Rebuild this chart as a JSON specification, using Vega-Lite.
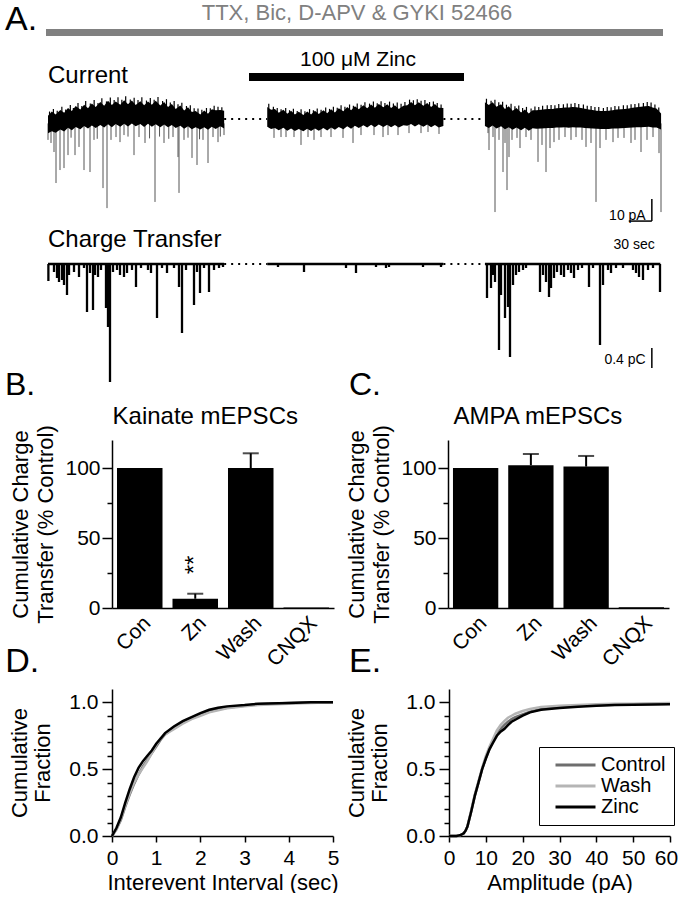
{
  "$schema": "https://vega.github.io/schema/vega-lite/v6.json",
  "background": "white",
  "padding": {"left": 4, "top": 0, "right": 0, "bottom": 0},
  "config": {
    "font": "Liberation Sans",
    "view": {"stroke": null},
    "axis": {"domainColor": "black", "tickColor": "black", "labelColor": "black", "titleColor": "black", "grid": false, "labelFont": "Liberation Sans", "titleFont": "Liberation Sans", "titleFontWeight": "normal", "labelFontSize": 21, "titleFontSize": 22, "domainWidth": 1.5, "tickWidth": 1.5, "labelOverlap": false, "labelFlush": false, "labelBound": false},
    "legend": {"labelFont": "Liberation Sans", "labelColor": "black"},
    "text": {"font": "Liberation Sans", "color": "black"}
  },
  "datasets": {
    "band": [
      {"s":1,"t":0,"hi":1.5,"lo":-6.5},{"s":1,"t":5,"hi":3.4,"lo":-5.6},{"s":1,"t":10,"hi":2.0,"lo":-6.3},{"s":1,"t":16,"hi":4.1,"lo":-4.8},{"s":1,"t":21,"hi":2.8,"lo":-5.7},{"s":1,"t":26,"hi":5.0,"lo":-4.0},{"s":1,"t":31,"hi":3.6,"lo":-5.1},{"s":1,"t":36,"hi":5.9,"lo":-3.6},{"s":1,"t":42,"hi":4.3,"lo":-4.7},{"s":1,"t":47,"hi":6.5,"lo":-3.2},{"s":1,"t":52,"hi":4.9,"lo":-4.3},{"s":1,"t":57,"hi":7.0,"lo":-2.9},{"s":1,"t":62,"hi":5.4,"lo":-4.1},{"s":1,"t":68,"hi":7.7,"lo":-2.7},{"s":1,"t":73,"hi":6.0,"lo":-3.9},{"s":1,"t":78,"hi":8.3,"lo":-2.4},{"s":1,"t":83,"hi":6.4,"lo":-3.7},{"s":1,"t":88,"hi":8.0,"lo":-2.3},{"s":1,"t":94,"hi":6.5,"lo":-3.5},{"s":1,"t":99,"hi":8.5,"lo":-2.2},{"s":1,"t":104,"hi":6.7,"lo":-3.4},{"s":1,"t":109,"hi":8.4,"lo":-2.1},{"s":1,"t":114,"hi":6.4,"lo":-3.3},{"s":1,"t":120,"hi":8.1,"lo":-2.3},{"s":1,"t":125,"hi":6.2,"lo":-3.6},{"s":1,"t":130,"hi":7.9,"lo":-2.2},{"s":1,"t":135,"hi":6.5,"lo":-3.5},{"s":1,"t":140,"hi":8.3,"lo":-2.4},{"s":1,"t":146,"hi":6.1,"lo":-3.7},{"s":1,"t":151,"hi":7.7,"lo":-2.5},{"s":1,"t":156,"hi":5.4,"lo":-3.8},{"s":1,"t":161,"hi":6.8,"lo":-2.7},{"s":1,"t":166,"hi":4.6,"lo":-4.1},{"s":1,"t":172,"hi":6.1,"lo":-3.1},{"s":1,"t":177,"hi":3.9,"lo":-4.4},{"s":1,"t":182,"hi":5.3,"lo":-3.3},{"s":1,"t":187,"hi":3.2,"lo":-4.7},{"s":1,"t":192,"hi":3.6,"lo":-3.7},{"s":1,"t":198,"hi":2.1,"lo":-4.8},{"s":1,"t":203,"hi":3.9,"lo":-3.7},{"s":1,"t":208,"hi":2.4,"lo":-4.9},{"s":1,"t":213,"hi":4.4,"lo":-3.5},{"s":1,"t":218,"hi":4.0,"lo":-4.5},{"s":1,"t":224,"hi":4.1,"lo":-3.3},{"s":1,"t":229,"hi":3.8,"lo":-4.3},
      {"s":2,"t":285,"hi":5.5,"lo":-3.5},{"s":2,"t":290,"hi":4.2,"lo":-4.5},{"s":2,"t":295,"hi":4.5,"lo":-4.1},{"s":2,"t":300,"hi":2.8,"lo":-5.1},{"s":2,"t":306,"hi":4.2,"lo":-4.0},{"s":2,"t":311,"hi":2.4,"lo":-5.3},{"s":2,"t":316,"hi":3.7,"lo":-4.3},{"s":2,"t":321,"hi":2.0,"lo":-5.5},{"s":2,"t":326,"hi":3.3,"lo":-4.5},{"s":2,"t":332,"hi":1.8,"lo":-5.6},{"s":2,"t":337,"hi":3.4,"lo":-4.4},{"s":2,"t":342,"hi":2.1,"lo":-5.4},{"s":2,"t":347,"hi":3.8,"lo":-4.3},{"s":2,"t":352,"hi":2.3,"lo":-5.3},{"s":2,"t":358,"hi":4.0,"lo":-4.1},{"s":2,"t":363,"hi":2.6,"lo":-5.2},{"s":2,"t":368,"hi":4.4,"lo":-3.9},{"s":2,"t":373,"hi":3.0,"lo":-4.9},{"s":2,"t":378,"hi":4.9,"lo":-3.6},{"s":2,"t":384,"hi":3.5,"lo":-4.7},{"s":2,"t":389,"hi":5.4,"lo":-3.3},{"s":2,"t":394,"hi":4.0,"lo":-4.4},{"s":2,"t":399,"hi":5.8,"lo":-3.1},{"s":2,"t":404,"hi":4.4,"lo":-4.1},{"s":2,"t":410,"hi":6.3,"lo":-2.8},{"s":2,"t":415,"hi":4.9,"lo":-3.9},{"s":2,"t":420,"hi":6.6,"lo":-2.6},{"s":2,"t":425,"hi":5.1,"lo":-3.7},{"s":2,"t":430,"hi":6.8,"lo":-2.5},{"s":2,"t":436,"hi":5.3,"lo":-3.6},{"s":2,"t":441,"hi":6.7,"lo":-2.6},{"s":2,"t":446,"hi":5.0,"lo":-3.8},{"s":2,"t":451,"hi":6.3,"lo":-2.7},{"s":2,"t":456,"hi":4.6,"lo":-3.9},{"s":2,"t":462,"hi":6.0,"lo":-2.8},{"s":2,"t":467,"hi":6.3,"lo":-3.1},{"s":2,"t":472,"hi":7.7,"lo":-2.3},{"s":2,"t":477,"hi":6.2,"lo":-3.4},{"s":2,"t":482,"hi":7.6,"lo":-2.4},{"s":2,"t":488,"hi":6.0,"lo":-3.5},{"s":2,"t":493,"hi":7.3,"lo":-2.5},{"s":2,"t":498,"hi":5.5,"lo":-3.7},{"s":2,"t":503,"hi":6.8,"lo":-2.7},{"s":2,"t":508,"hi":5.1,"lo":-3.9},{"s":2,"t":514,"hi":5.0,"lo":-3.2},
      {"s":3,"t":568,"hi":7.6,"lo":-3.2},{"s":3,"t":573,"hi":6.4,"lo":-4.1},{"s":3,"t":578,"hi":7.6,"lo":-3.0},{"s":3,"t":583,"hi":5.6,"lo":-4.3},{"s":3,"t":589,"hi":6.7,"lo":-3.3},{"s":3,"t":594,"hi":4.6,"lo":-4.7},{"s":3,"t":599,"hi":5.8,"lo":-3.7},{"s":3,"t":604,"hi":3.8,"lo":-4.9},{"s":3,"t":609,"hi":5.0,"lo":-3.9},{"s":3,"t":615,"hi":3.0,"lo":-5.1},{"s":3,"t":620,"hi":4.3,"lo":-4.0},{"s":3,"t":625,"hi":2.5,"lo":-5.3},{"s":3,"t":630,"hi":4.0,"lo":-4.2},{"s":3,"t":635,"hi":4.0,"lo":-4.4},{"s":3,"t":641,"hi":4.2,"lo":-4.3},{"s":3,"t":646,"hi":4.4,"lo":-4.2},{"s":3,"t":651,"hi":4.6,"lo":-4.1},{"s":3,"t":656,"hi":4.6,"lo":-4.1},{"s":3,"t":661,"hi":4.9,"lo":-3.9},{"s":3,"t":667,"hi":5.0,"lo":-3.9},{"s":3,"t":672,"hi":5.2,"lo":-3.8},{"s":3,"t":677,"hi":5.2,"lo":-4.0},{"s":3,"t":682,"hi":5.4,"lo":-3.7},{"s":3,"t":687,"hi":5.3,"lo":-3.9},{"s":3,"t":693,"hi":5.0,"lo":-3.9},{"s":3,"t":698,"hi":4.7,"lo":-4.1},{"s":3,"t":703,"hi":4.3,"lo":-4.2},{"s":3,"t":708,"hi":4.1,"lo":-4.3},{"s":3,"t":713,"hi":3.8,"lo":-4.4},{"s":3,"t":719,"hi":3.6,"lo":-4.6},{"s":3,"t":724,"hi":3.6,"lo":-4.5},{"s":3,"t":729,"hi":3.8,"lo":-4.5},{"s":3,"t":734,"hi":4.0,"lo":-4.3},{"s":3,"t":739,"hi":4.3,"lo":-4.3},{"s":3,"t":745,"hi":4.4,"lo":-4.2},{"s":3,"t":750,"hi":4.6,"lo":-4.1},{"s":3,"t":755,"hi":4.8,"lo":-4.0},{"s":3,"t":760,"hi":5.1,"lo":-3.9},{"s":3,"t":765,"hi":5.3,"lo":-3.7},{"s":3,"t":771,"hi":5.6,"lo":-3.7},{"s":3,"t":776,"hi":5.8,"lo":-3.6},{"s":3,"t":781,"hi":5.9,"lo":-3.5},{"s":3,"t":786,"hi":5.2,"lo":-3.9},{"s":3,"t":791,"hi":4.8,"lo":-3.9},{"s":3,"t":797,"hi":2.5,"lo":-4.8}
    ],
    "fuzz": [
      {"t":2,"f":3.4},{"t":7,"f":4.6},{"t":12,"f":3.7},{"t":18,"f":5.6},{"t":23,"f":4.3},{"t":29,"f":6.4},{"t":33,"f":5.0},{"t":39,"f":7.3},{"t":44,"f":5.9},{"t":49,"f":8.2},{"t":55,"f":7.0},{"t":60,"f":8.6},{"t":65,"f":7.3},{"t":70,"f":9.4},{"t":76,"f":8.0},{"t":81,"f":9.8},{"t":86,"f":8.6},{"t":91,"f":9.9},{"t":96,"f":8.7},{"t":101,"f":10.3},{"t":107,"f":8.9},{"t":112,"f":9.7},{"t":117,"f":8.6},{"t":122,"f":9.9},{"t":128,"f":8.4},{"t":133,"f":9.6},{"t":138,"f":8.7},{"t":143,"f":10.0},{"t":149,"f":8.2},{"t":154,"f":9.0},{"t":159,"f":7.5},{"t":164,"f":8.2},{"t":169,"f":6.7},{"t":174,"f":7.4},{"t":180,"f":5.9},{"t":185,"f":6.3},{"t":190,"f":4.9},{"t":195,"f":4.8},{"t":200,"f":4.2},{"t":206,"f":5.0},{"t":211,"f":4.9},{"t":216,"f":6.0},{"t":221,"f":5.6},{"t":226,"f":5.3},
      {"t":287,"f":6.9},{"t":293,"f":5.6},{"t":298,"f":5.0},{"t":303,"f":4.4},{"t":309,"f":5.0},{"t":314,"f":4.0},{"t":319,"f":4.7},{"t":324,"f":3.6},{"t":329,"f":4.4},{"t":334,"f":3.5},{"t":340,"f":4.5},{"t":345,"f":4.0},{"t":350,"f":4.8},{"t":355,"f":4.2},{"t":361,"f":5.2},{"t":366,"f":4.6},{"t":371,"f":5.6},{"t":376,"f":5.1},{"t":381,"f":6.2},{"t":386,"f":5.6},{"t":392,"f":6.6},{"t":397,"f":6.0},{"t":402,"f":7.1},{"t":407,"f":6.5},{"t":412,"f":7.6},{"t":418,"f":7.0},{"t":423,"f":8.0},{"t":428,"f":7.2},{"t":433,"f":8.1},{"t":438,"f":7.3},{"t":444,"f":7.9},{"t":449,"f":7.0},{"t":454,"f":7.5},{"t":459,"f":6.9},{"t":464,"f":7.7},{"t":470,"f":8.8},{"t":475,"f":8.5},{"t":480,"f":9.0},{"t":485,"f":8.3},{"t":490,"f":8.6},{"t":496,"f":7.7},{"t":501,"f":8.0},{"t":506,"f":7.3},{"t":511,"f":6.6},
      {"t":570,"f":9.2},{"t":576,"f":8.3},{"t":581,"f":8.7},{"t":586,"f":7.6},{"t":591,"f":7.8},{"t":596,"f":6.5},{"t":602,"f":6.9},{"t":607,"f":5.8},{"t":612,"f":6.1},{"t":617,"f":5.0},{"t":622,"f":5.5},{"t":628,"f":4.8},{"t":633,"f":5.7},{"t":638,"f":5.5},{"t":643,"f":6.0},{"t":649,"f":6.2},{"t":654,"f":6.4},{"t":659,"f":6.3},{"t":664,"f":6.8},{"t":670,"f":6.7},{"t":675,"f":7.1},{"t":680,"f":6.9},{"t":685,"f":7.3},{"t":690,"f":6.8},{"t":696,"f":6.6},{"t":701,"f":6.0},{"t":706,"f":5.9},{"t":711,"f":5.4},{"t":716,"f":5.4},{"t":722,"f":5.0},{"t":727,"f":5.4},{"t":732,"f":5.3},{"t":737,"f":5.9},{"t":742,"f":5.8},{"t":748,"f":6.2},{"t":753,"f":6.3},{"t":758,"f":6.7},{"t":763,"f":6.8},{"t":768,"f":7.2},{"t":774,"f":7.3},{"t":779,"f":7.7},{"t":784,"f":7.5},{"t":789,"f":6.6},{"t":794,"f":5.2}
    ],
    "spikes": [
      {"t":0,"p":-9.5},{"t":3.9,"p":-10.9},{"t":7.8,"p":-15},{"t":10.4,"p":-29.1},{"t":15.6,"p":-23.2},{"t":20.8,"p":-22.3},{"t":26,"p":-16.4},{"t":30,"p":-8.5},{"t":35.1,"p":-16.4},{"t":40.3,"p":-12.7},{"t":46.8,"p":-23.2},{"t":54.6,"p":-24.1},{"t":59.8,"p":-9.5},{"t":64,"p":-9},{"t":71.5,"p":-31.4},{"t":76.7,"p":-40.5},{"t":81.9,"p":-9.5},{"t":88.4,"p":-8.2},{"t":93.6,"p":-10.5},{"t":98.8,"p":-7.3},{"t":104,"p":-8},{"t":111.8,"p":-16.4},{"t":118.3,"p":-8.2},{"t":126.1,"p":-10.9},{"t":132,"p":-8.8},{"t":139.1,"p":-37.7},{"t":145,"p":-8},{"t":150.8,"p":-10.9},{"t":157,"p":-9},{"t":162.5,"p":-8.2},{"t":169,"p":-17.3},{"t":170.3,"p":-33.6},{"t":176.8,"p":-9.5},{"t":182,"p":-8.5},{"t":187.2,"p":-17.7},{"t":193.7,"p":-20.9},{"t":197,"p":-9.2},{"t":201.5,"p":-9.5},{"t":208,"p":-20},{"t":214.5,"p":-8.2},{"t":221,"p":-10.5},{"t":224,"p":-8},{"t":228.8,"p":-7.3},
      {"t":293.8,"p":-8.6},{"t":302.9,"p":-8.2},{"t":309.4,"p":-8.2},{"t":319.8,"p":-8.2},{"t":328.9,"p":-11.8},{"t":338,"p":-8.2},{"t":345.8,"p":-9.5},{"t":354.9,"p":-8.2},{"t":367.9,"p":-8.2},{"t":383.5,"p":-8.6},{"t":396.5,"p":-10.9},{"t":406.9,"p":-7.3},{"t":423.8,"p":-7.3},{"t":435.5,"p":-8.2},{"t":442,"p":-7.3},{"t":455,"p":-7.3},{"t":469.3,"p":-6.4},{"t":484.9,"p":-6.4},{"t":494,"p":-5.9},{"t":508.3,"p":-6.8},
      {"t":572,"p":-6.4},{"t":573.3,"p":-14.1},{"t":578.5,"p":-8.2},{"t":581.1,"p":-42.3},{"t":586.3,"p":-9.5},{"t":591.5,"p":-24.1},{"t":594.1,"p":-10.9},{"t":596.7,"p":-32.3},{"t":599.3,"p":-17.3},{"t":603.2,"p":-9.5},{"t":609.7,"p":-8.6},{"t":613.6,"p":-13.2},{"t":621.4,"p":-8.2},{"t":627.9,"p":-9.5},{"t":637,"p":-19.5},{"t":642.2,"p":-11.8},{"t":647.4,"p":-24.1},{"t":652.6,"p":-13.2},{"t":657.8,"p":-10.5},{"t":664.3,"p":-9.5},{"t":672.1,"p":-8.2},{"t":679.9,"p":-9.5},{"t":686.4,"p":-8.2},{"t":694.2,"p":-9.5},{"t":699.4,"p":-12.7},{"t":705.9,"p":-10.9},{"t":712.4,"p":-37.7},{"t":717.6,"p":-13.2},{"t":725.4,"p":-9.5},{"t":734.5,"p":-10.5},{"t":741,"p":-8.6},{"t":748.8,"p":-8.6},{"t":757.9,"p":-10.9},{"t":763.1,"p":-9.5},{"t":770.9,"p":-15},{"t":778.7,"p":-9.5},{"t":786.5,"p":-8.2},{"t":794.3,"p":-15.5},{"t":796.9,"p":-42.3}
    ],
    "gaps": [{"a":229,"b":285},{"a":514,"b":568}],
    "qbase": [{"a":0,"b":229},{"a":285,"b":514},{"a":568,"b":796}],
    "qdips": [
      {"t":0.5,"q":-0.34},{"t":7.8,"q":-0.16},{"t":11.7,"q":-0.28},{"t":14.3,"q":-0.36},{"t":18.2,"q":-0.32},{"t":20.8,"q":-0.42},{"t":24.7,"q":-0.62},{"t":27.3,"q":-0.22},{"t":33.8,"q":-0.16},{"t":40.3,"q":-0.26},{"t":46.8,"q":-0.08},{"t":50.7,"q":-0.96},{"t":54.6,"q":-0.18},{"t":58.5,"q":-0.92},{"t":61.1,"q":-0.22},{"t":65,"q":-0.26},{"t":68.9,"q":-0.12},{"t":75.4,"q":-0.88},{"t":78,"q":-1.26},{"t":80.6,"q":-2.36},{"t":84.5,"q":-0.16},{"t":89.7,"q":-0.12},{"t":93.6,"q":-0.22},{"t":98.8,"q":-0.26},{"t":102.7,"q":-0.18},{"t":109.2,"q":-0.12},{"t":114.4,"q":-0.46},{"t":120.9,"q":-0.08},{"t":130,"q":-0.12},{"t":133.9,"q":-0.18},{"t":141.7,"q":-1.08},{"t":148.2,"q":-0.08},{"t":154.7,"q":-0.18},{"t":163.8,"q":-0.08},{"t":170.3,"q":-0.46},{"t":174.2,"q":-1.38},{"t":179.4,"q":-0.12},{"t":189.8,"q":-0.82},{"t":193.7,"q":-0.16},{"t":197.6,"q":-0.58},{"t":202.8,"q":-0.08},{"t":209.3,"q":-0.56},{"t":215.8,"q":-0.12},{"t":222.3,"q":-0.08},{"t":227.5,"q":-0.06},
      {"t":299,"q":-0.06},{"t":332.8,"q":-0.16},{"t":387.4,"q":-0.08},{"t":400.4,"q":-0.18},{"t":426.4,"q":-0.06},{"t":439.4,"q":-0.08},{"t":443.3,"q":-0.06},{"t":487.5,"q":-0.06},{"t":510.9,"q":-0.06},
      {"t":570.7,"q":-0.68},{"t":575.9,"q":-0.48},{"t":578.5,"q":-0.22},{"t":581.1,"q":-0.36},{"t":586.3,"q":-1.72},{"t":588.9,"q":-0.62},{"t":594.1,"q":-1.08},{"t":598,"q":-0.86},{"t":600.6,"q":-1.86},{"t":604.5,"q":-0.42},{"t":608.4,"q":-0.22},{"t":612.3,"q":-0.16},{"t":617.5,"q":-0.12},{"t":621.4,"q":-0.08},{"t":639.6,"q":-0.56},{"t":643.5,"q":-0.22},{"t":647.4,"q":-0.36},{"t":651.3,"q":-0.66},{"t":653.9,"q":-0.48},{"t":657.8,"q":-0.28},{"t":661.7,"q":-0.16},{"t":666.9,"q":-0.22},{"t":670.8,"q":-0.26},{"t":676,"q":-0.12},{"t":679.9,"q":-0.18},{"t":683.8,"q":-0.28},{"t":689,"q":-0.12},{"t":694.2,"q":-0.08},{"t":703.3,"q":-0.46},{"t":708.5,"q":-0.08},{"t":717.6,"q":-1.62},{"t":721.5,"q":-0.42},{"t":728,"q":-0.12},{"t":731.9,"q":-0.18},{"t":738.4,"q":-0.08},{"t":747.5,"q":-0.08},{"t":760.5,"q":-0.12},{"t":764.4,"q":-0.18},{"t":768.3,"q":-0.26},{"t":773.5,"q":-0.32},{"t":780,"q":-0.12},{"t":786.5,"q":-0.08},{"t":795.6,"q":-0.56}
    ],
    "kainate": [
      {"g":"Con","v":100},{"g":"Zn","v":6.6,"e":10.2},{"g":"Wash","v":100,"e":110.5},{"g":"CNQX","v":0.3}
    ],
    "ampa": [
      {"g":"Con","v":100},{"g":"Zn","v":102,"e":110},{"g":"Wash","v":101,"e":108.6},{"g":"CNQX","v":0.6}
    ],
    "interval": [
      {"c":"Control","x":0,"y":0},{"c":"Control","x":0.1,"y":0.05},{"c":"Control","x":0.2,"y":0.12},{"c":"Control","x":0.3,"y":0.22},{"c":"Control","x":0.4,"y":0.31},{"c":"Control","x":0.5,"y":0.39},{"c":"Control","x":0.6,"y":0.46},{"c":"Control","x":0.7,"y":0.52},{"c":"Control","x":0.8,"y":0.57},{"c":"Control","x":0.9,"y":0.62},{"c":"Control","x":1.0,"y":0.67},{"c":"Control","x":1.1,"y":0.72},{"c":"Control","x":1.2,"y":0.76},{"c":"Control","x":1.4,"y":0.81},{"c":"Control","x":1.6,"y":0.85},{"c":"Control","x":1.8,"y":0.88},{"c":"Control","x":2.0,"y":0.91},{"c":"Control","x":2.2,"y":0.93},{"c":"Control","x":2.4,"y":0.95},{"c":"Control","x":2.6,"y":0.96},{"c":"Control","x":3.0,"y":0.975},{"c":"Control","x":3.3,"y":0.985},{"c":"Control","x":4.0,"y":0.995},{"c":"Control","x":5.0,"y":1.0},
      {"c":"Wash","x":0,"y":0},{"c":"Wash","x":0.1,"y":0.05},{"c":"Wash","x":0.2,"y":0.13},{"c":"Wash","x":0.3,"y":0.23},{"c":"Wash","x":0.4,"y":0.32},{"c":"Wash","x":0.5,"y":0.4},{"c":"Wash","x":0.6,"y":0.46},{"c":"Wash","x":0.7,"y":0.51},{"c":"Wash","x":0.8,"y":0.56},{"c":"Wash","x":0.9,"y":0.62},{"c":"Wash","x":1.0,"y":0.68},{"c":"Wash","x":1.1,"y":0.73},{"c":"Wash","x":1.2,"y":0.76},{"c":"Wash","x":1.4,"y":0.8},{"c":"Wash","x":1.6,"y":0.84},{"c":"Wash","x":1.8,"y":0.875},{"c":"Wash","x":2.0,"y":0.9},{"c":"Wash","x":2.2,"y":0.925},{"c":"Wash","x":2.4,"y":0.94},{"c":"Wash","x":2.6,"y":0.955},{"c":"Wash","x":3.0,"y":0.97},{"c":"Wash","x":3.3,"y":0.98},{"c":"Wash","x":4.0,"y":0.99},{"c":"Wash","x":5.0,"y":1.0},
      {"c":"Zinc","x":0,"y":0},{"c":"Zinc","x":0.1,"y":0.06},{"c":"Zinc","x":0.2,"y":0.14},{"c":"Zinc","x":0.3,"y":0.25},{"c":"Zinc","x":0.4,"y":0.35},{"c":"Zinc","x":0.5,"y":0.44},{"c":"Zinc","x":0.6,"y":0.51},{"c":"Zinc","x":0.7,"y":0.56},{"c":"Zinc","x":0.8,"y":0.6},{"c":"Zinc","x":0.9,"y":0.64},{"c":"Zinc","x":1.0,"y":0.69},{"c":"Zinc","x":1.1,"y":0.73},{"c":"Zinc","x":1.2,"y":0.77},{"c":"Zinc","x":1.4,"y":0.82},{"c":"Zinc","x":1.6,"y":0.86},{"c":"Zinc","x":1.8,"y":0.89},{"c":"Zinc","x":2.0,"y":0.92},{"c":"Zinc","x":2.2,"y":0.945},{"c":"Zinc","x":2.4,"y":0.96},{"c":"Zinc","x":2.6,"y":0.97},{"c":"Zinc","x":3.0,"y":0.98},{"c":"Zinc","x":3.3,"y":0.99},{"c":"Zinc","x":4.0,"y":0.995},{"c":"Zinc","x":4.5,"y":1.0},{"c":"Zinc","x":5.0,"y":1.0}
    ],
    "amplitude": [
      {"c":"Control","x":0,"y":0},{"c":"Control","x":2,"y":0},{"c":"Control","x":3,"y":0.005},{"c":"Control","x":4,"y":0.02},{"c":"Control","x":4.5,"y":0.04},{"c":"Control","x":5,"y":0.07},{"c":"Control","x":6,"y":0.18},{"c":"Control","x":7,"y":0.3},{"c":"Control","x":8,"y":0.4},{"c":"Control","x":9,"y":0.5},{"c":"Control","x":10,"y":0.58},{"c":"Control","x":11,"y":0.65},{"c":"Control","x":12,"y":0.71},{"c":"Control","x":13,"y":0.76},{"c":"Control","x":14,"y":0.8},{"c":"Control","x":15,"y":0.83},{"c":"Control","x":16,"y":0.855},{"c":"Control","x":17,"y":0.875},{"c":"Control","x":18,"y":0.89},{"c":"Control","x":20,"y":0.91},{"c":"Control","x":22,"y":0.93},{"c":"Control","x":25,"y":0.95},{"c":"Control","x":30,"y":0.965},{"c":"Control","x":35,"y":0.972},{"c":"Control","x":40,"y":0.978},{"c":"Control","x":45,"y":0.982},{"c":"Control","x":50,"y":0.985},{"c":"Control","x":60,"y":0.99},
      {"c":"Wash","x":0,"y":0},{"c":"Wash","x":2,"y":0},{"c":"Wash","x":3,"y":0.005},{"c":"Wash","x":4,"y":0.02},{"c":"Wash","x":4.5,"y":0.04},{"c":"Wash","x":5,"y":0.07},{"c":"Wash","x":6,"y":0.19},{"c":"Wash","x":7,"y":0.31},{"c":"Wash","x":8,"y":0.41},{"c":"Wash","x":9,"y":0.51},{"c":"Wash","x":10,"y":0.6},{"c":"Wash","x":11,"y":0.67},{"c":"Wash","x":12,"y":0.73},{"c":"Wash","x":13,"y":0.79},{"c":"Wash","x":14,"y":0.83},{"c":"Wash","x":15,"y":0.86},{"c":"Wash","x":16,"y":0.885},{"c":"Wash","x":17,"y":0.9},{"c":"Wash","x":18,"y":0.915},{"c":"Wash","x":20,"y":0.935},{"c":"Wash","x":22,"y":0.95},{"c":"Wash","x":25,"y":0.965},{"c":"Wash","x":30,"y":0.975},{"c":"Wash","x":35,"y":0.98},{"c":"Wash","x":40,"y":0.985},{"c":"Wash","x":45,"y":0.99},{"c":"Wash","x":50,"y":0.99},{"c":"Wash","x":60,"y":0.995},
      {"c":"Zinc","x":0,"y":0},{"c":"Zinc","x":2,"y":0},{"c":"Zinc","x":3,"y":0.005},{"c":"Zinc","x":4,"y":0.02},{"c":"Zinc","x":4.5,"y":0.04},{"c":"Zinc","x":5,"y":0.07},{"c":"Zinc","x":6,"y":0.18},{"c":"Zinc","x":7,"y":0.3},{"c":"Zinc","x":8,"y":0.4},{"c":"Zinc","x":9,"y":0.5},{"c":"Zinc","x":10,"y":0.58},{"c":"Zinc","x":11,"y":0.65},{"c":"Zinc","x":12,"y":0.7},{"c":"Zinc","x":13,"y":0.75},{"c":"Zinc","x":14,"y":0.78},{"c":"Zinc","x":15,"y":0.8},{"c":"Zinc","x":16,"y":0.83},{"c":"Zinc","x":17,"y":0.855},{"c":"Zinc","x":18,"y":0.87},{"c":"Zinc","x":20,"y":0.9},{"c":"Zinc","x":22,"y":0.925},{"c":"Zinc","x":25,"y":0.945},{"c":"Zinc","x":30,"y":0.958},{"c":"Zinc","x":35,"y":0.968},{"c":"Zinc","x":40,"y":0.975},{"c":"Zinc","x":45,"y":0.98},{"c":"Zinc","x":50,"y":0.982},{"c":"Zinc","x":60,"y":0.985}
    ]
  },
  "bounds": "flush",
  "spacing": 50,
  "vconcat": [
    {
      "width": 551,
      "height": 390,
      "layer": [
        {
          "layer": [
            {"data": {"name": "spikes"}, "mark": {"type": "rule", "color": "#555555", "strokeWidth": 1},
             "encoding": {"x": {"field": "t", "type": "quantitative", "scale": {"domain": [83.2, 799.5]}, "axis": null},
                          "y": {"field": "p", "type": "quantitative", "scale": {"domain": [-123.18, 54.09]}, "axis": null},
                          "y2": {"datum": -2}}},
            {"data": {"name": "fuzz"}, "mark": {"type": "rule", "color": "black", "strokeWidth": 1.2},
             "encoding": {"x": {"field": "t", "type": "quantitative", "scale": {"domain": [83.2, 799.5]}, "axis": null},
                          "y": {"field": "f", "type": "quantitative", "scale": {"domain": [-123.18, 54.09]}, "axis": null},
                          "y2": {"datum": 0}}},
            {"data": {"name": "band"}, "mark": {"type": "area", "color": "black"},
             "encoding": {"x": {"field": "t", "type": "quantitative", "scale": {"domain": [83.2, 799.5]}, "axis": null},
                          "y": {"field": "hi", "type": "quantitative", "scale": {"domain": [-123.18, 54.09]}, "axis": null},
                          "y2": {"field": "lo"}, "detail": {"field": "s", "type": "nominal"}}},
            {"data": {"name": "gaps"}, "mark": {"type": "rule", "color": "black", "strokeWidth": 2, "strokeDash": [2, 5]},
             "encoding": {"x": {"field": "a", "type": "quantitative", "scale": {"domain": [83.2, 799.5]}, "axis": null}, "x2": {"field": "b"},
                          "y": {"datum": 0, "type": "quantitative", "scale": {"domain": [-123.18, 54.09]}, "axis": null}}},
            {"data": {"values": [{"a": -2.6, "b": 799.5, "v": 39.3}]}, "mark": {"type": "rule", "color": "#808080", "strokeWidth": 7},
             "encoding": {"x": {"field": "a", "type": "quantitative", "scale": {"domain": [83.2, 799.5]}, "axis": null}, "x2": {"field": "b"},
                          "y": {"field": "v", "type": "quantitative", "scale": {"domain": [-123.18, 54.09]}, "axis": null}}},
            {"data": {"values": [{"a": 261.3, "b": 540.8, "v": 19.1}]}, "mark": {"type": "rule", "color": "black", "strokeWidth": 8},
             "encoding": {"x": {"field": "a", "type": "quantitative", "scale": {"domain": [83.2, 799.5]}, "axis": null}, "x2": {"field": "b"},
                          "y": {"field": "v", "type": "quantitative", "scale": {"domain": [-123.18, 54.09]}, "axis": null}}},
            {"data": {"values": [{"a": 785, "b": 785, "v": -36.4, "v2": -46.4}, {"a": 755, "b": 785, "v": -46.4, "v2": -46.4}]}, "mark": {"type": "rule", "color": "black", "strokeWidth": 1.5},
             "encoding": {"x": {"field": "a", "type": "quantitative", "scale": {"domain": [83.2, 799.5]}, "axis": null}, "x2": {"field": "b"},
                          "y": {"field": "v", "type": "quantitative", "scale": {"domain": [-123.18, 54.09]}, "axis": null}, "y2": {"field": "v2"}}},
            {"data": {"values": [{"t": -55.9, "v": 40.5, "label": "A."}]}, "mark": {"type": "text", "fontSize": 34, "align": "left", "baseline": "alphabetic"},
             "encoding": {"x": {"field": "t", "type": "quantitative", "scale": {"domain": [83.2, 799.5]}, "axis": null},
                          "y": {"field": "v", "type": "quantitative", "scale": {"domain": [-123.18, 54.09]}, "axis": null}, "text": {"field": "label"}}},
            {"data": {"values": [{"t": 401.7, "v": 45, "label": "TTX, Bic, D-APV & GYKI 52466"}]}, "mark": {"type": "text", "fontSize": 22, "align": "center", "baseline": "alphabetic", "color": "#808080"},
             "encoding": {"x": {"field": "t", "type": "quantitative", "scale": {"domain": [83.2, 799.5]}, "axis": null},
                          "y": {"field": "v", "type": "quantitative", "scale": {"domain": [-123.18, 54.09]}, "axis": null}, "text": {"field": "label"}}},
            {"data": {"values": [{"t": 403, "v": 24.1, "label": "100 μM Zinc"}]}, "mark": {"type": "text", "fontSize": 21, "align": "center", "baseline": "alphabetic"},
             "encoding": {"x": {"field": "t", "type": "quantitative", "scale": {"domain": [83.2, 799.5]}, "axis": null},
                          "y": {"field": "v", "type": "quantitative", "scale": {"domain": [-123.18, 54.09]}, "axis": null}, "text": {"field": "label"}}},
            {"data": {"values": [{"t": 0, "v": 16.4, "label": "Current"}]}, "mark": {"type": "text", "fontSize": 24, "align": "left", "baseline": "alphabetic"},
             "encoding": {"x": {"field": "t", "type": "quantitative", "scale": {"domain": [83.2, 799.5]}, "axis": null},
                          "y": {"field": "v", "type": "quantitative", "scale": {"domain": [-123.18, 54.09]}, "axis": null}, "text": {"field": "label"}}},
            {"data": {"values": [{"t": 777, "v": -45.9, "label": "10 pA"}]}, "mark": {"type": "text", "fontSize": 14, "align": "right", "baseline": "alphabetic"},
             "encoding": {"x": {"field": "t", "type": "quantitative", "scale": {"domain": [83.2, 799.5]}, "axis": null},
                          "y": {"field": "v", "type": "quantitative", "scale": {"domain": [-123.18, 54.09]}, "axis": null}, "text": {"field": "label"}}},
            {"data": {"values": [{"t": 762, "v": -59.1, "label": "30 sec"}]}, "mark": {"type": "text", "fontSize": 14, "align": "center", "baseline": "alphabetic"},
             "encoding": {"x": {"field": "t", "type": "quantitative", "scale": {"domain": [83.2, 799.5]}, "axis": null},
                          "y": {"field": "v", "type": "quantitative", "scale": {"domain": [-123.18, 54.09]}, "axis": null}, "text": {"field": "label"}}}
          ]
        },
        {
          "layer": [
            {"data": {"name": "qbase"}, "mark": {"type": "rule", "color": "black", "strokeWidth": 2.5},
             "encoding": {"x": {"field": "a", "type": "quantitative", "scale": {"domain": [83.2, 799.5]}, "axis": null}, "x2": {"field": "b"},
                          "y": {"datum": 0, "type": "quantitative", "scale": {"domain": [-2.52, 5.28]}, "axis": null}}},
            {"data": {"name": "qdips"}, "mark": {"type": "rule", "color": "black", "strokeWidth": 2.3},
             "encoding": {"x": {"field": "t", "type": "quantitative", "scale": {"domain": [83.2, 799.5]}, "axis": null},
                          "y": {"field": "q", "type": "quantitative", "scale": {"domain": [-2.52, 5.28]}, "axis": null}, "y2": {"datum": 0}}},
            {"data": {"name": "gaps"}, "mark": {"type": "rule", "color": "black", "strokeWidth": 2, "strokeDash": [2, 5]},
             "encoding": {"x": {"field": "a", "type": "quantitative", "scale": {"domain": [83.2, 799.5]}, "axis": null}, "x2": {"field": "b"},
                          "y": {"datum": 0, "type": "quantitative", "scale": {"domain": [-2.52, 5.28]}, "axis": null}}},
            {"data": {"values": [{"a": 785, "v": -1.68, "v2": -2.08}]}, "mark": {"type": "rule", "color": "black", "strokeWidth": 1.5},
             "encoding": {"x": {"field": "a", "type": "quantitative", "scale": {"domain": [83.2, 799.5]}, "axis": null},
                          "y": {"field": "v", "type": "quantitative", "scale": {"domain": [-2.52, 5.28]}, "axis": null}, "y2": {"field": "v2"}}},
            {"data": {"values": [{"t": 0, "v": 0.34, "label": "Charge Transfer"}]}, "mark": {"type": "text", "fontSize": 24, "align": "left", "baseline": "alphabetic"},
             "encoding": {"x": {"field": "t", "type": "quantitative", "scale": {"domain": [83.2, 799.5]}, "axis": null},
                          "y": {"field": "v", "type": "quantitative", "scale": {"domain": [-2.52, 5.28]}, "axis": null}, "text": {"field": "label"}}},
            {"data": {"values": [{"t": 777, "v": -2.0, "label": "0.4 pC"}]}, "mark": {"type": "text", "fontSize": 14, "align": "right", "baseline": "alphabetic"},
             "encoding": {"x": {"field": "t", "type": "quantitative", "scale": {"domain": [83.2, 799.5]}, "axis": null},
                          "y": {"field": "v", "type": "quantitative", "scale": {"domain": [-2.52, 5.28]}, "axis": null}, "text": {"field": "label"}}}
          ]
        }
      ],
      "resolve": {"scale": {"y": "independent"}}
    },
    {
      "bounds": "flush",
      "spacing": 249,
      "vconcat": [
        {
          "bounds": "flush",
          "spacing": 114,
          "hconcat": [
            {
              "width": 222, "height": 168,
              "layer": [
                {"data": {"name": "kainate"}, "mark": {"type": "bar", "color": "black"},
                 "encoding": {
                   "x": {"field": "g", "type": "nominal", "sort": null, "scale": {"domain": ["Con", "Zn", "Wash", "CNQX"], "paddingInner": 0.18, "paddingOuter": 0.09},
                         "axis": {"title": null, "labelAngle": -45, "ticks": false, "labelPadding": 4, "labelOverlap": false}},
                   "y": {"field": "v", "type": "quantitative", "scale": {"domain": [0, 120]},
                         "axis": {"values": [0, 25, 50, 75, 100], "tickCount": 20, "format": "d", "labelExpr": "datum.value % 50 === 0 ? datum.label : ''", "labelOverlap": false,
                                  "tickSize": {"condition": {"test": "datum.value % 50 === 0", "value": 10}, "value": 5},
                                  "labelPadding": 2, "title": ["Cumulative Charge", "Transfer (% Control)"], "titlePadding": 7, "titleLineHeight": 25}}}},
                {"data": {"name": "kainate"}, "transform": [{"filter": "isValid(datum.e)"}], "mark": {"type": "rule", "color": "black", "strokeWidth": 2},
                 "encoding": {"x": {"field": "g", "type": "nominal", "sort": null}, "y": {"field": "v", "type": "quantitative"}, "y2": {"field": "e"}}},
                {"data": {"name": "kainate"}, "transform": [{"filter": "isValid(datum.e)"}], "mark": {"type": "tick", "color": "black", "thickness": 2, "size": 16},
                 "encoding": {"x": {"field": "g", "type": "nominal", "sort": null}, "y": {"field": "e", "type": "quantitative"}}},
                {"data": {"values": [{"g": "Zn", "v": 30.7, "label": "**"}]}, "mark": {"type": "text", "fontSize": 24, "angle": 270, "align": "center", "baseline": "middle"},
                 "encoding": {"x": {"field": "g", "type": "nominal", "sort": null}, "y": {"field": "v", "type": "quantitative"}, "text": {"field": "label"}}},
                {"data": {"values": [{"g": "Zn", "v": 131.4, "label": "Kainate mEPSCs"}]}, "mark": {"type": "text", "fontSize": 24, "align": "center", "baseline": "alphabetic", "dx": 10},
                 "encoding": {"x": {"field": "g", "type": "nominal", "sort": null}, "y": {"field": "v", "type": "quantitative"}, "text": {"field": "label"}}},
                {"data": {"values": [{"g": "Con", "v": 152, "label": "B."}]}, "mark": {"type": "text", "fontSize": 32, "align": "left", "baseline": "alphabetic", "dx": -134.8},
                 "encoding": {"x": {"field": "g", "type": "nominal", "sort": null}, "y": {"field": "v", "type": "quantitative"}, "text": {"field": "label"}}}
              ]
            },
            {
              "width": 221, "height": 168,
              "layer": [
                {"data": {"name": "ampa"}, "mark": {"type": "bar", "color": "black"},
                 "encoding": {
                   "x": {"field": "g", "type": "nominal", "sort": null, "scale": {"domain": ["Con", "Zn", "Wash", "CNQX"], "paddingInner": 0.18, "paddingOuter": 0.09},
                         "axis": {"title": null, "labelAngle": -45, "ticks": false, "labelPadding": 4, "labelOverlap": false}},
                   "y": {"field": "v", "type": "quantitative", "scale": {"domain": [0, 120]},
                         "axis": {"values": [0, 25, 50, 75, 100], "tickCount": 20, "format": "d", "labelExpr": "datum.value % 50 === 0 ? datum.label : ''", "labelOverlap": false,
                                  "tickSize": {"condition": {"test": "datum.value % 50 === 0", "value": 10}, "value": 5},
                                  "labelPadding": 2, "title": ["Cumulative Charge", "Transfer (% Control)"], "titlePadding": 7, "titleLineHeight": 25}}}},
                {"data": {"name": "ampa"}, "transform": [{"filter": "isValid(datum.e)"}], "mark": {"type": "rule", "color": "black", "strokeWidth": 2},
                 "encoding": {"x": {"field": "g", "type": "nominal", "sort": null}, "y": {"field": "v", "type": "quantitative"}, "y2": {"field": "e"}}},
                {"data": {"name": "ampa"}, "transform": [{"filter": "isValid(datum.e)"}], "mark": {"type": "tick", "color": "black", "thickness": 2, "size": 16},
                 "encoding": {"x": {"field": "g", "type": "nominal", "sort": null}, "y": {"field": "e", "type": "quantitative"}}},
                {"data": {"values": [{"g": "Zn", "v": 131.4, "label": "AMPA mEPSCs"}]}, "mark": {"type": "text", "fontSize": 24, "align": "center", "baseline": "alphabetic", "dx": 7},
                 "encoding": {"x": {"field": "g", "type": "nominal", "sort": null}, "y": {"field": "v", "type": "quantitative"}, "text": {"field": "label"}}},
                {"data": {"values": [{"g": "Con", "v": 152, "label": "C."}]}, "mark": {"type": "text", "fontSize": 32, "align": "left", "baseline": "alphabetic", "dx": -126.75},
                 "encoding": {"x": {"field": "g", "type": "nominal", "sort": null}, "y": {"field": "v", "type": "quantitative"}, "text": {"field": "label"}}}
              ]
            }
          ]
        },
        {
          "bounds": "flush",
          "spacing": 116,
          "resolve": {"scale": {"color": "independent"}, "legend": {"color": "independent"}},
          "hconcat": [
            {
              "width": 221, "height": 147,
              "resolve": {"axis": {"y": "independent"}},
              "layer": [
                {"data": {"name": "interval"}, "mark": {"type": "line", "strokeWidth": 2.5},
                 "encoding": {
                   "x": {"field": "x", "type": "quantitative", "scale": {"domain": [0, 5]},
                         "axis": {"values": [0, 1, 2, 3, 4, 5], "tickCount": 20, "format": "d", "tickSize": 6, "labelPadding": 5, "labelOverlap": false, "title": "Interevent Interval (sec)", "titlePadding": 4}},
                   "y": {"field": "y", "type": "quantitative", "scale": {"domain": [0, 1.1]},
                         "axis": {"orient": "left", "values": [0, 0.5, 1.0], "tickCount": 20, "format": ".1f", "labelOverlap": false, "tickSize": 10,
                                  "labelPadding": 4, "title": ["Cumulative", "Fraction"], "titlePadding": 14, "titleLineHeight": 23}},
                   "color": {"field": "c", "type": "nominal", "scale": {"domain": ["Control", "Wash", "Zinc"], "range": ["#6e6e6e", "#b5b5b5", "#000000"]}, "legend": null}}},
                {"data": {"values": [{"x": -2.415, "y": 1.227, "label": "D."}]}, "mark": {"type": "text", "fontSize": 34, "align": "left", "baseline": "alphabetic"},
                 "encoding": {"x": {"field": "x", "type": "quantitative", "scale": {"domain": [0, 5]}},
                              "y": {"field": "y", "type": "quantitative", "scale": {"domain": [0, 1.1]},
                                    "axis": {"orient": "left", "values": [0.1, 0.2, 0.3, 0.4, 0.6, 0.7, 0.8, 0.9], "tickCount": 20, "labels": false, "domain": false, "tickSize": 5, "title": null}},
                              "text": {"field": "label"}}}
              ]
            },
            {
              "width": 221, "height": 147,
              "resolve": {"axis": {"y": "independent"}},
              "layer": [
                {"data": {"name": "amplitude"}, "mark": {"type": "line", "strokeWidth": 2.5},
                 "encoding": {
                   "x": {"field": "x", "type": "quantitative", "scale": {"domain": [0, 60]},
                         "axis": {"values": [0, 10, 20, 30, 40, 50, 60], "tickCount": 20, "format": "d", "tickSize": 6, "labelPadding": 5, "labelOverlap": false, "title": "Amplitude (pA)", "titlePadding": 4,
                                  "labelOffset": {"condition": {"test": "datum.value === 60", "value": -4}, "value": 0}}},
                   "y": {"field": "y", "type": "quantitative", "scale": {"domain": [0, 1.1]},
                         "axis": {"orient": "left", "values": [0, 0.5, 1.0], "tickCount": 20, "format": ".1f", "labelOverlap": false, "tickSize": 10,
                                  "labelPadding": 4, "title": ["Cumulative", "Fraction"], "titlePadding": 14, "titleLineHeight": 23}},
                   "color": {"field": "c", "type": "nominal", "scale": {"domain": ["Control", "Wash", "Zinc"], "range": ["#6e6e6e", "#b5b5b5", "#000000"]},
                             "legend": {"orient": "none", "legendX": 90, "legendY": 58, "title": null, "strokeColor": "black", "fillColor": "white", "padding": 8,
                                        "labelFontSize": 20, "symbolType": "M-0.3,0L7.7,0", "symbolSize": 100, "symbolStrokeWidth": 3, "labelOffset": 34, "rowPadding": 1}}}},
                {"data": {"values": [{"x": -27.15, "y": 1.227, "label": "E."}]}, "mark": {"type": "text", "fontSize": 34, "align": "left", "baseline": "alphabetic"},
                 "encoding": {"x": {"field": "x", "type": "quantitative", "scale": {"domain": [0, 60]}},
                              "y": {"field": "y", "type": "quantitative", "scale": {"domain": [0, 1.1]},
                                    "axis": {"orient": "left", "values": [0.1, 0.2, 0.3, 0.4, 0.6, 0.7, 0.8, 0.9], "tickCount": 20, "labels": false, "domain": false, "tickSize": 5, "title": null}},
                              "text": {"field": "label"}}}
              ]
            }
          ]
        }
      ]
    }
  ]
}
